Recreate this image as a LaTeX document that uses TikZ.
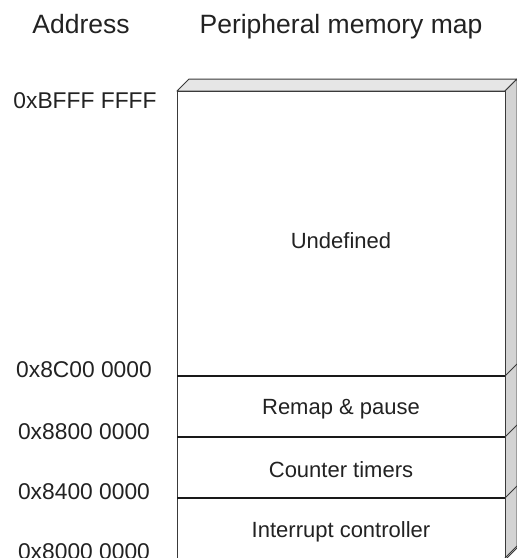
\documentclass[tikz,border=0pt]{standalone}
\usepackage{fontspec}
\setmainfont{Liberation Sans}
\definecolor{ink}{HTML}{222222}
\definecolor{edge}{HTML}{3A3A3A}
\definecolor{topface}{HTML}{E6E6E6}
\definecolor{sideface}{HTML}{D3D3D3}
\begin{document}
\begin{tikzpicture}[x=1pt,y=-1pt,
  heading/.style={text=ink,font=\fontsize{26.5}{31}\selectfont,inner sep=0pt,anchor=base},
  addr/.style={text=ink,font=\fontsize{22.8}{27}\selectfont,inner sep=0pt,anchor=base},
  region/.style={text=ink,font=\fontsize{22}{26}\selectfont,inner sep=0pt,anchor=base},
  outline/.style={draw=edge,line width=1pt,line join=round},
  divider/.style={draw=black!90,line width=1.8pt},
  slant/.style={draw=edge,line width=0.9pt}]
\useasboundingbox (0,0) rectangle (517,558);
\begin{scope}
\clip (0,0) rectangle (517,558);
% block geometry: front face 177..505, depth 12 to the upper right
\def\xl{177}\def\xr{505}\def\yt{91}\def\yb{560}\def\dd{12}
% top face
\filldraw[outline,fill=topface] (\xl,\yt) -- (\xl+\dd,\yt-\dd) -- (\xr+\dd,\yt-\dd) -- (\xr,\yt) -- cycle;
% side face
\filldraw[outline,fill=sideface] (\xr,\yt) -- (\xr+\dd,\yt-\dd) -- (\xr+\dd,\yb-\dd) -- (\xr,\yb) -- cycle;
% front face
\filldraw[outline,fill=white] (\xl,\yt) rectangle (\xr,\yb);
% region boundaries
\foreach \y in {376,437,498} {
  \draw[divider] (\xl,\y) -- (\xr,\y);
  \draw[slant] (\xr,\y) -- (\xr+\dd,\y-\dd);
}
\draw[slant] (\xr,558) -- (\xr+\dd,558-\dd);
\end{scope}
% headings
\node[heading] (hAddr) at (81,33) {Address};
\node[heading] (hMap) at (341,33) {Peripheral memory map};
% addresses
\node[addr] (aTop) at (85,108) {0xBFFF FFFF};
\node[addr] (a8C) at (84,377) {0x8C00 0000};
\node[addr] (a88) at (84,439) {0x8800 0000};
\node[addr] (a84) at (84,499) {0x8400 0000};
\node[addr] (a80) at (84,559) {0x8000 0000};
% regions
\node[region] (rUnd) at (341,248) {Undefined};
\node[region] (rRemap) at (341,414) {Remap \& pause};
\node[region] (rCnt) at (341,477) {Counter timers};
\node[region] (rIrq) at (341,537) {Interrupt controller};
\end{tikzpicture}
\end{document}
